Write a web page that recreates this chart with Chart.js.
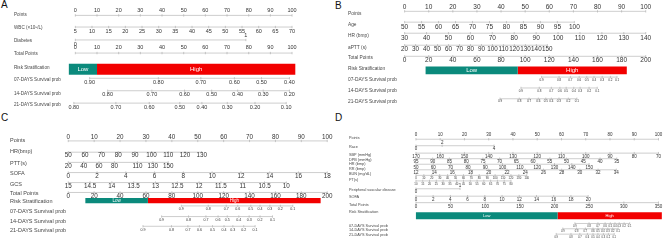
<!DOCTYPE html>
<html>
<head>
<meta charset="utf-8">
<script src="https://cdn.jsdelivr.net/npm/chart.js@4.4.1/dist/chart.umd.min.js"></script>
<style>
  body { margin: 0; background: #fff; width: 669px; height: 248px; position: relative; overflow: hidden;
         font-family: "Liberation Sans", Arial, sans-serif; }
  canvas { position: absolute; }
  .tag { position: absolute; font-size: 10px; line-height: 10px; color: #111; }
</style>
</head>
<body>
<div class="tag" style="left:1px;top:0">A</div>
<div class="tag" style="left:335px;top:1px">B</div>
<div class="tag" style="left:1px;top:113px">C</div>
<div class="tag" style="left:335px;top:113px">D</div>
<canvas id="chartA" width="334" height="120" style="left:0;top:0"></canvas>
<canvas id="chartB" width="335" height="120" style="left:334px;top:0"></canvas>
<canvas id="chartC" width="340" height="124" style="left:0;top:124px"></canvas>
<canvas id="chartD" width="335" height="124" style="left:334px;top:124px"></canvas>
<script>
const FONT = '"Liberation Sans", Arial, sans-serif';

// ---- A: WBC / diabetes nomogram
const aPoints = [0, 10, 20, 30, 40, 50, 60, 70, 80, 90, 100];
const aWbc = [5, 10, 15, 20, 25, 30, 35, 40, 45, 50, 55, 60, 65, 70];
const aDiabetes = [0, 1];
const aTotal = [0, 10, 20, 30, 40, 50, 60, 70, 80, 90, 100];
const aRisk = [-3, 10, 101.5];            // low start, cut, high end (total points)
const aSurv07 = [0.9, 0.8, 0.7, 0.6, 0.5, 0.4];
const aAt07 = [6.6, 38.3, 57.9, 73.4, 85.9, 98.8];
const aSurv14 = [0.8, 0.7, 0.6, 0.5, 0.4, 0.3, 0.2];
const aAt14 = [14.9, 35.3, 50.4, 62.9, 74.9, 86.7, 98.8];
const aSurv21 = [0.8, 0.7, 0.6, 0.5, 0.4, 0.3, 0.2, 0.1];
const aAt21 = [-0.7, 18.7, 34.1, 48.2, 58.4, 70.1, 82.9, 97.3];

// ---- B: age / HR / aPTT nomogram
const bPoints = [0, 10, 20, 30, 40, 50, 60, 70, 80, 90, 100];
const bAge = [50, 55, 60, 65, 70, 75, 80, 85, 90, 95, 100];
const bHr = [30, 40, 50, 60, 70, 80, 90, 100, 110, 120, 130, 140];
const bAptt = [20, 30, 40, 50, 60, 70, 80, 90, 100, 110, 120, 130, 140, 150];
const bTotal = [0, 20, 40, 60, 80, 100, 120, 140, 160, 180, 200];
const bRisk = [17.4, 93.8, 184.3];
const bSurv = [0.9, 0.8, 0.7, 0.6, 0.5, 0.4, 0.3, 0.2, 0.1];
const bAt07 = [113.6, 128.1, 137.5, 144.8, 151.1, 157.1, 163.9, 170.7, 176.2];
const bAt14 = [96.5, 111.7, 121.7, 128.8, 134.0, 140.3, 145.6, 153.0, 159.8];
const bAt21 = [79.1, 95.1, 103.2, 110.9, 117.1, 121.7, 128.0, 135.8, 142.9];

// ---- C: HR / PTT / SOFA / GCS nomogram
const cPoints = [0, 10, 20, 30, 40, 50, 60, 70, 80, 90, 100];
const cHr = [50, 60, 70, 80, 90, 100, 110, 120, 130];
const cPtt = [20, 40, 60, 80, 110, 130, 150];
const cSofa = [0, 2, 4, 6, 8, 10, 12, 14, 16, 18];
const cGcs = [15, 14.5, 14, 13.5, 13, 12.5, 12, 11.5, 11, 10.5, 10];
const cTotal = [0, 20, 40, 60, 80, 100, 120, 140, 160, 180, 200];
const cRisk = [13.2, 61.5, 194.9];
const cSurv = [0.9, 0.8, 0.7, 0.6, 0.5, 0.4, 0.3, 0.2, 0.1];
const cAt07 = [87.3, 108.1, 122.0, 130.9, 141.0, 148.1, 155.7, 163.8, 173.4];
const cAt14 = [72.1, 92.9, 106.3, 115.7, 122.8, 131.7, 139.7, 148.1, 157.7];
const cAt21 = [57.7, 79.7, 92.4, 101.3, 111.4, 120.3, 127.1, 135.5, 144.3];

// ---- D: full model nomogram
const dPoints = [0, 10, 20, 30, 40, 50, 60, 70, 80, 90, 100];
const dRace = [0, 2, 4];
const dRaceAt = [0, 10.8, 32.2];
const dSbp = [170, 160, 150, 140, 130, 120, 110, 100, 90, 80, 70];
const dDbp = [95, 90, 85, 80, 75, 70, 65, 60, 55, 50, 45, 40, 35];
const dHr = [50, 60, 70, 80, 90, 100, 110, 120, 130, 140, 150];
const dRr = [12, 14, 16, 18, 20, 22, 24, 26, 28, 30, 32, 34];
const dBun = [0, 10, 20, 30, 40, 50, 60, 70, 80, 90, 100, 110, 120, 130, 140];
const dPt = [10, 15, 20, 25, 30, 35, 40, 45, 50, 55, 60, 65, 70, 75, 80];
const dPvd = [0, 1];
const dSofa = [0, 2, 4, 6, 8, 10, 12, 14, 16, 18, 20];
const dTotal = [0, 50, 100, 150, 200, 250, 300, 350];
const dRisk = [0, 204.4, 354.8];
const dSurv = [0.9, 0.8, 0.7, 0.6, 0.5, 0.4, 0.3, 0.2, 0.1];
const dAt07 = [229.4, 249.8, 262.6, 273.0, 280.5, 287.2, 293.3, 300.4, 308.4];
const dAt14 = [211.9, 231.8, 244.5, 255.5, 262.6, 269.7, 276.8, 283.9, 291.8];
const dAt21 = [202.4, 223.7, 236.5, 247.4, 255.5, 262.6, 270.5, 277.6, 286.1];

const TEAL = '#0b8a7c';
const RED = '#f20000';
const two = v => v.toFixed(2);

// panel layouts: pixel of points 0 / 100, row line y, name y
const panels = [
  { id: 'chartA', width: 334, height: 120, nameX: 14, left: 66, px0: 75.5, px100: 296, nameSize: 4.6,
    rows: [
      { name: 'Points', ny: 11, y: 11.7, ticks: aPoints, map: [0, 0, 100, 100], side: 'above', gap: 4.7, size: 5.5 },
      { name: 'WBC (×10⁹/L)', ny: 25.5, y: 24.3, ticks: aWbc, map: [5, 0, 70, 100], side: 'below', gap: 4.7, size: 5.5 },
      { name: 'Diabetes', ny: 39.3, y: 38.3, ticks: aDiabetes, map: [0, 0, 1, 78.7], side: ['below', 'above'], gap: 4.3, size: 5.5 },
      { name: 'Total Points', ny: 53.7, y: 52.5, ticks: aTotal, map: [0, 0, 100, 100], side: 'above', gap: 5.3, size: 5.5 },
      { name: 'Risk Stratification', ny: 68, y: 70, risk: aRisk, map: [0, 0, 100, 100], h: 11, size: 6 },
      { name: '07-DAYS Survival prob', ny: 81, y: 79.8, ticks: aAt07, texts: aSurv07.map(two), map: [0, 0, 100, 100], side: 'below', gap: 4, size: 5.5 },
      { name: '14-DAYS Survival prob', ny: 96.5, y: 93.3, ticks: aAt14, texts: aSurv14.map(two), map: [0, 0, 100, 100], side: 'below', gap: 4, size: 5.5 },
      { name: '21-DAYS Survival prob', ny: 108.3, y: 106.7, ticks: aAt21, texts: aSurv21.map(two), map: [0, 0, 100, 100], side: 'below', gap: 4.5, size: 5.5 }
    ] },
  { id: 'chartB', width: 335, height: 120, nameX: 14, left: 66, px0: 70.7, px100: 316, nameSize: 4.8,
    rows: [
      { name: 'Points', ny: 10, y: 7.3, ticks: bPoints, map: [0, 0, 100, 100], side: 'above', gap: 4, size: 6.5 },
      { name: 'Age', ny: 22, y: 19, ticks: bAge, map: [50, 0, 100, 70.4], side: 'below', gap: 5, size: 6.5 },
      { name: 'HR (bmp)', ny: 33.3, y: 31, ticks: bHr, map: [30, 0, 140, 100], side: 'below', gap: 4.7, size: 6.5 },
      { name: 'aPTT (s)', ny: 46.7, y: 44, ticks: bAptt, map: [20, 0, 150, 59.2], side: 'below', gap: 3.7, size: 6.3 },
      { name: 'Total Points', ny: 57.7, y: 56, ticks: bTotal, map: [0, 0, 200, 100], side: 'below', gap: 4, size: 6.5 },
      { name: 'Risk Stratification', ny: 69, y: 71.2, risk: bRisk, map: [0, 0, 200, 100], h: 7.7, size: 6 },
      { name: '07-DAYS Survival prob', ny: 81, y: 78.5, ticks: bAt07, texts: bSurv.map(String), map: [0, 0, 200, 100], side: 'below', gap: 2.8, size: 3 },
      { name: '14-DAYS Survival prob', ny: 93.7, y: 90.3, ticks: bAt14, texts: bSurv.map(String), map: [0, 0, 200, 100], side: 'below', gap: 3.2, size: 3 },
      { name: '21-DAYS Survival prob', ny: 105, y: 102, ticks: bAt21, texts: bSurv.map(String), map: [0, 0, 200, 100], side: 'below', gap: 2.8, size: 3 }
    ] },
  { id: 'chartC', width: 340, height: 124, nameX: 10, left: 66, px0: 68.3, px100: 331.7, nameSize: 5.5,
    rows: [
      { name: 'Points', ny: 13.3, y: 13.3, ticks: cPoints, map: [0, 0, 100, 100], side: 'above', gap: 4, size: 6.3 },
      { name: 'HR(bmp)', ny: 25, y: 25.5, ticks: cHr, map: [50, 0, 130, 51.5], side: 'below', gap: 3.5, size: 6.3 },
      { name: 'PTT(s)', ny: 37.7, y: 36.5, ticks: cPtt, map: [20, 0, 150, 38.6], side: 'below', gap: 3.5, size: 6.3 },
      { name: 'SOFA', ny: 48.3, y: 47.5, ticks: cSofa, map: [0, 0, 18, 100], side: 'below', gap: 3.3, size: 6.3 },
      { name: 'GCS', ny: 60, y: 58.3, ticks: cGcs, map: [15, 0, 10, 84.2], side: 'below', gap: 3.4, size: 6.3 },
      { name: 'Total Points', ny: 70, y: 69, ticks: cTotal, map: [0, 0, 200, 100], side: 'below', gap: 3.5, size: 6.3 },
      { name: 'Risk Stratification', ny: 79, y: 77.7, risk: cRisk, map: [0, 0, 200, 100], h: 5.3, size: 4.5 },
      { name: '07-DAYS Survival prob', ny: 89.3, y: 83.5, ticks: cAt07, texts: cSurv.map(String), map: [0, 0, 200, 100], side: 'below', gap: 3.3, size: 3.6 },
      { name: '14-DAYS Survival prob', ny: 100, y: 95, ticks: cAt14, texts: cSurv.map(String), map: [0, 0, 200, 100], side: 'below', gap: 3.3, size: 3.6 },
      { name: '21-DAYS Survival prob', ny: 110, y: 105.5, ticks: cAt21, texts: cSurv.map(String), map: [0, 0, 200, 100], side: 'below', gap: 3.3, size: 3.6 }
    ] },
  { id: 'chartD', width: 335, height: 124, nameX: 15, left: 78, px0: 82, px100: 329, nameSize: 3.8,
    rows: [
      { name: 'Points', ny: 10, y: 11.5, ticks: dPoints, map: [0, 0, 100, 100], side: 'above', gap: 4, size: 4.5 },
      { name: 'Race', ny: 19.3, y: 18.5, ticks: dRaceAt, texts: dRace.map(String), map: [0, 0, 100, 100], side: ['below', 'above', 'below'], gap: 3.3, size: 4.5 },
      { name: 'SBP (mmHg)', ny: 28.5, y: 26.5, ticks: dSbp, map: [170, 0, 70, 100], side: 'below', gap: 3.4, size: 4.5 },
      { name: 'DPB (mmHg)', ny: 33.7, y: 32.5, ticks: dDbp, map: [95, 0, 35, 82.8], side: 'below', gap: 3.4, size: 4.5 },
      { name: 'HR (bmp)', ny: 38.7, y: 38.5, ticks: dHr, map: [50, 0, 150, 71.4], side: 'below', gap: 3.4, size: 4.5 },
      { name: 'RR (bmp)', ny: 43.5, y: 44.5, ticks: dRr, map: [12, 0, 34, 82.6], side: 'below', gap: 3.4, size: 4.5 },
      { name: 'BUN (mg/dL)', ny: 48.5, y: 50.5, ticks: dBun, map: [0, 0, 140, 45.7], side: 'below', gap: 3, size: 2.8 },
      { name: 'PT(s)', ny: 56, y: 56.5, ticks: dPt, map: [10, 0, 80, 39.2], side: 'below', gap: 3, size: 2.8 },
      { name: 'Peripheral vascular disease', ny: 66, y: 65, ticks: dPvd, map: [0, 0, 1, 18.2], side: ['below', 'above'], gap: 3.3, size: 4.5 },
      { name: 'SOFA', ny: 73.3, y: 73, ticks: dSofa, map: [0, 0, 20, 71.0], side: 'below', gap: 3.6, size: 4.5 },
      { name: 'Total Points', ny: 82.7, y: 80, ticks: dTotal, map: [0, 0, 350, 100], side: 'below', gap: 4, size: 4.5 },
      { name: 'Risk Stratification', ny: 90.5, y: 94, risk: dRisk, map: [0, 0, 350, 100], h: 7, size: 4 },
      { name: '07-DAYS Survival prob', ny: 105.3, y: 102.5, ticks: dAt07, texts: dSurv.map(String), map: [0, 0, 350, 100], side: 'below', gap: 3, size: 2.6 },
      { name: '14-DAYS Survival prob', ny: 110, y: 108.2, ticks: dAt14, texts: dSurv.map(String), map: [0, 0, 350, 100], side: 'below', gap: 3, size: 2.6 },
      { name: '21-DAYS Survival prob', ny: 115, y: 114, ticks: dAt21, texts: dSurv.map(String), map: [0, 0, 350, 100], side: 'below', gap: 3, size: 2.6 }
    ] }
];

// hidden linear x scale for one row: value vA sits at points pA, vB at points pB
function rowScale(P, map) {
  const [vA, pA, vB, pB] = map;
  const xa = P.px0 + pA * (P.px100 - P.px0) / 100;
  const xb = P.px0 + pB * (P.px100 - P.px0) / 100;
  const k = (vB - vA) / (xb - xa);
  const lo = vA + (P.left - xa) * k;
  const hi = vA + (P.width - xa) * k;
  return { type: 'linear', display: false, min: Math.min(lo, hi), max: Math.max(lo, hi), reverse: k < 0 };
}

// writes tick labels and the Low/High words on top of the drawn datasets
const tickText = {
  id: 'tickText',
  afterDatasetsDraw(chart) {
    const ctx = chart.ctx;
    chart.data.datasets.forEach((ds, i) => {
      const pts = chart.getDatasetMeta(i).data;
      ctx.save();
      ctx.textAlign = 'center';
      ctx.textBaseline = 'middle';
      ctx.font = ds.textSize + 'px ' + FONT;
      if (ds.barText) {
        ctx.fillStyle = '#fff';
        ctx.fillText(ds.barText, (pts[0].x + pts[1].x) / 2, pts[0].y + 0.3);
      } else if (ds.texts) {
        ctx.fillStyle = '#333';
        pts.forEach((p, j) => {
          const up = ds.sides[j] === 'above';
          ctx.fillText(ds.texts[j], p.x, p.y + (up ? -ds.gap : ds.gap));
        });
      }
      ctx.restore();
    });
  }
};

function buildPanel(P) {
  const scales = {};
  const datasets = [];
  P.rows.forEach((r, i) => {
    const xid = 'x' + i;
    scales[xid] = rowScale(P, r.map);
    if (r.risk) {
      [[r.risk[0], r.risk[1], TEAL, 'Low'], [r.risk[1], r.risk[2], RED, 'High']].forEach(([a, b, col, word]) => {
        datasets.push({
          data: [{ x: a, y: r.y }, { x: b, y: r.y }],
          xAxisID: xid, borderColor: col, borderWidth: r.h, borderCapStyle: 'butt',
          pointRadius: 0, clip: false, barText: word, textSize: r.size
        });
      });
      return;
    }
    const texts = r.texts || r.ticks.map(String);
    datasets.push({
      data: r.ticks.map(v => ({ x: v, y: r.y })),
      xAxisID: xid,
      borderColor: '#c2c2c2', borderWidth: 0.8,
      pointStyle: 'line', pointRotation: 90, pointRadius: 1.2,
      pointBorderColor: '#a8a8a8', pointBorderWidth: 0.6, pointHitRadius: 0,
      clip: false,
      texts: texts,
      sides: Array.isArray(r.side) ? r.side : texts.map(() => r.side),
      gap: r.gap, textSize: r.size
    });
  });

  scales.y = {
    type: 'linear', min: 0, max: P.height, reverse: true,
    afterFit: s => { s.width = P.left - P.nameX; s.paddingTop = 0; s.paddingBottom = 0; },
    afterBuildTicks: s => { s.ticks = P.rows.map(r => ({ value: r.ny })); },
    ticks: {
      autoSkip: false, crossAlign: 'far', padding: 0, color: '#484848',
      font: { size: P.nameSize, family: FONT },
      callback: (v, i) => P.rows[i].name
    },
    grid: { display: false },
    border: { display: false }
  };

  new Chart(document.getElementById(P.id), {
    type: 'line',
    data: { datasets },
    options: {
      responsive: false,
      animation: false,
      devicePixelRatio: 1,
      events: [],
      layout: { padding: { left: P.nameX, right: 0, top: 0, bottom: 0 } },
      plugins: { legend: { display: false }, tooltip: { enabled: false } },
      scales
    },
    plugins: [tickText]
  });
}

panels.forEach(buildPanel);
</script>
</body>
</html>
